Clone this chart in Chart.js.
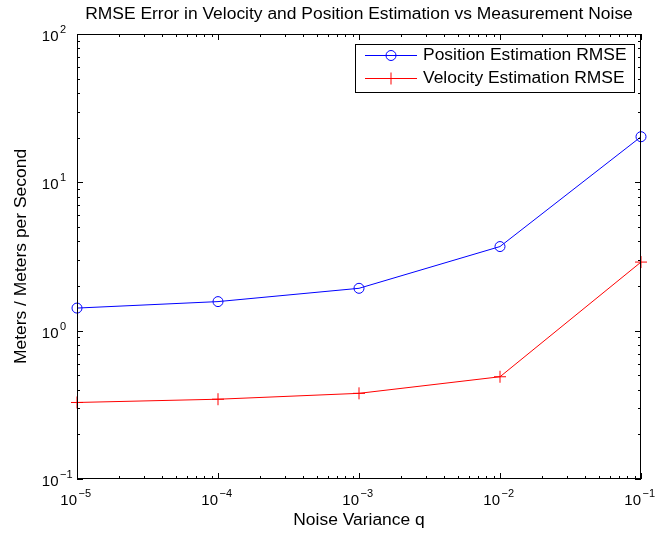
<!DOCTYPE html>
<html lang="en">
<head>
<meta charset="UTF-8">
<title>RMSE vs Measurement Noise</title>
<script src="https://cdn.jsdelivr.net/npm/chart.js"></script>
<style>
    html, body { margin: 0; padding: 0; background: #fff; }
    #wrap { width: 655px; height: 533px; position: relative; }
</style>
</head>
<body>
<div id="wrap"><canvas id="rmseChart"></canvas></div>
<script>
// data
const noiseVariance = [1e-5, 1e-4, 1e-3, 1e-2, 1e-1];
const positionRmse = [1.42, 1.57, 1.93, 3.69, 20.3];
const velocityRmse = [0.328, 0.345, 0.378, 0.489, 2.90];

const xTickExps = [-5, -4, -3, -2, -1];
const yTickExps = [-1, 0, 1, 2];

const titleText = 'RMSE Error in Velocity and Position Estimation vs Measurement Noise';
const xTitle = 'Noise Variance q';
const yTitle = 'Meters / Meters per Second';
const seriesNames = ['Position Estimation RMSE', 'Velocity Estimation RMSE'];

const FONT = "'Liberation Sans', Arial, Helvetica, sans-serif";
const STRETCH = 1.09; // the original's Helvetica runs a bit wider

function toPoints(xs, ys) {
    return xs.map((x, i) => ({ x: x, y: ys[i] }));
}

// text with a little horizontal stretch
function wideText(ctx, text, x, y, align, rot) {
    ctx.save();
    ctx.translate(x, y);
    if (rot) ctx.rotate(rot);
    ctx.scale(STRETCH, 1);
    ctx.font = '16px ' + FONT;
    ctx.textAlign = align;
    ctx.textBaseline = 'middle';
    ctx.fillStyle = '#000';
    ctx.fillText(text, 0, 0);
    ctx.restore();
}

function drawPow(ctx, exp, x, y, side) {
    const expStr = exp < 0 ? '\u2212' + Math.abs(exp) : String(exp);
    ctx.fillStyle = '#000';
    ctx.textBaseline = 'alphabetic';
    if (side === 'x') {
        ctx.font = '15px ' + FONT;
        ctx.textAlign = 'right';
        ctx.fillText('10', x, y + 26);
        ctx.font = '11px ' + FONT;
        ctx.textAlign = 'left';
        ctx.fillText(expStr, x + 1.5, y + 18);
    } else {
        ctx.font = '15px ' + FONT;
        ctx.textAlign = 'right';
        ctx.fillText('10', x - 18.5, y + 7);
        ctx.font = '11px ' + FONT;
        ctx.textAlign = 'left';
        ctx.fillText(expStr, x - 17, y - 1);
    }
}

const matlabAxes = {
    id: 'matlabAxes',
    afterDraw(chart) {
        const ctx = chart.ctx;
        const a = chart.chartArea;
        const xs = chart.scales.x;
        const ys = chart.scales.y;
        ctx.save();

        // box
        ctx.strokeStyle = '#000';
        ctx.lineWidth = 1;
        ctx.strokeRect(Math.round(a.left) + 0.5, Math.round(a.top) + 0.5,
            Math.round(a.right - a.left) - 1, Math.round(a.bottom - a.top) - 1);

        // ticks, inward on all four sides
        ctx.beginPath();
        for (let e = xTickExps[0]; e <= xTickExps[xTickExps.length - 1]; e++) {
            for (let k = 1; k <= 9; k++) {
                const v = k * Math.pow(10, e);
                if (v > xs.max * 1.0001) break;
                const px = Math.round(xs.getPixelForValue(v)) + 0.5;
                const len = k === 1 ? 6 : 3;
                ctx.moveTo(px, a.bottom); ctx.lineTo(px, a.bottom - len);
                ctx.moveTo(px, a.top); ctx.lineTo(px, a.top + len);
            }
        }
        for (let e = yTickExps[0]; e <= yTickExps[yTickExps.length - 1]; e++) {
            for (let k = 1; k <= 9; k++) {
                const v = k * Math.pow(10, e);
                if (v > ys.max * 1.0001) break;
                const py = Math.round(ys.getPixelForValue(v)) + 0.5;
                const len = k === 1 ? 6 : 3;
                ctx.moveTo(a.left, py); ctx.lineTo(a.left + len, py);
                ctx.moveTo(a.right, py); ctx.lineTo(a.right - len, py);
            }
        }
        ctx.stroke();

        // tick labels
        xTickExps.forEach(e => drawPow(ctx, e, xs.getPixelForValue(Math.pow(10, e)), a.bottom, 'x'));
        yTickExps.forEach(e => drawPow(ctx, e, a.left, ys.getPixelForValue(Math.pow(10, e)), 'y'));

        // titles
        const cx = (a.left + a.right) / 2;
        wideText(ctx, titleText, cx, 15, 'center');
        wideText(ctx, xTitle, cx, 521, 'center');
        wideText(ctx, yTitle, 22, (a.top + a.bottom) / 2, 'center', -Math.PI / 2);

        // legend
        const lx = 355.5, ly = 44.5, lw = 279, lh = 48;
        ctx.fillStyle = '#fff';
        ctx.fillRect(lx, ly, lw, lh);
        ctx.strokeStyle = '#000';
        ctx.strokeRect(lx, ly, lw, lh);
        const rows = [55.5, 78.5];
        chart.data.datasets.forEach((ds, i) => {
            const y = rows[i];
            ctx.strokeStyle = ds.borderColor;
            ctx.lineWidth = 1;
            ctx.beginPath();
            ctx.moveTo(365, y); ctx.lineTo(417, y);
            ctx.stroke();
            ctx.beginPath();
            if (ds.pointStyle === 'circle') {
                ctx.arc(391, y, 5, 0, Math.PI * 2);
            } else {
                ctx.moveTo(385, y); ctx.lineTo(397, y);
                ctx.moveTo(391, y - 6); ctx.lineTo(391, y + 6);
            }
            ctx.stroke();
            wideText(ctx, seriesNames[i], 423, y, 'left');
        });

        ctx.restore();
    }
};

new Chart(document.getElementById('rmseChart'), {
    type: 'line',
    data: {
        datasets: [
            {
                label: seriesNames[0],
                data: toPoints(noiseVariance, positionRmse),
                borderColor: '#0000ff',
                borderWidth: 1,
                pointStyle: 'circle',
                pointRadius: 5,
                pointBorderWidth: 1,
                pointBorderColor: '#0000ff',
                pointBackgroundColor: 'rgba(0,0,0,0)',
                tension: 0,
                clip: false
            },
            {
                label: seriesNames[1],
                data: toPoints(noiseVariance, velocityRmse),
                borderColor: '#ff0000',
                borderWidth: 1,
                pointStyle: 'cross',
                pointRadius: 6,
                pointBorderWidth: 1,
                pointBorderColor: '#ff0000',
                tension: 0,
                clip: false
            }
        ]
    },
    options: {
        responsive: true,
        maintainAspectRatio: false,
        animation: false,
        events: [],
        layout: { padding: { left: 77, right: 14, top: 34, bottom: 54 } },
        plugins: {
            legend: { display: false },
            title: { display: false },
            tooltip: { enabled: false }
        },
        scales: {
            x: {
                type: 'logarithmic',
                min: 1e-5,
                max: 1e-1,
                display: false
            },
            y: {
                type: 'logarithmic',
                min: 1e-1,
                max: 1e2,
                display: false
            }
        }
    },
    plugins: [matlabAxes]
});
</script>
</body>
</html>
